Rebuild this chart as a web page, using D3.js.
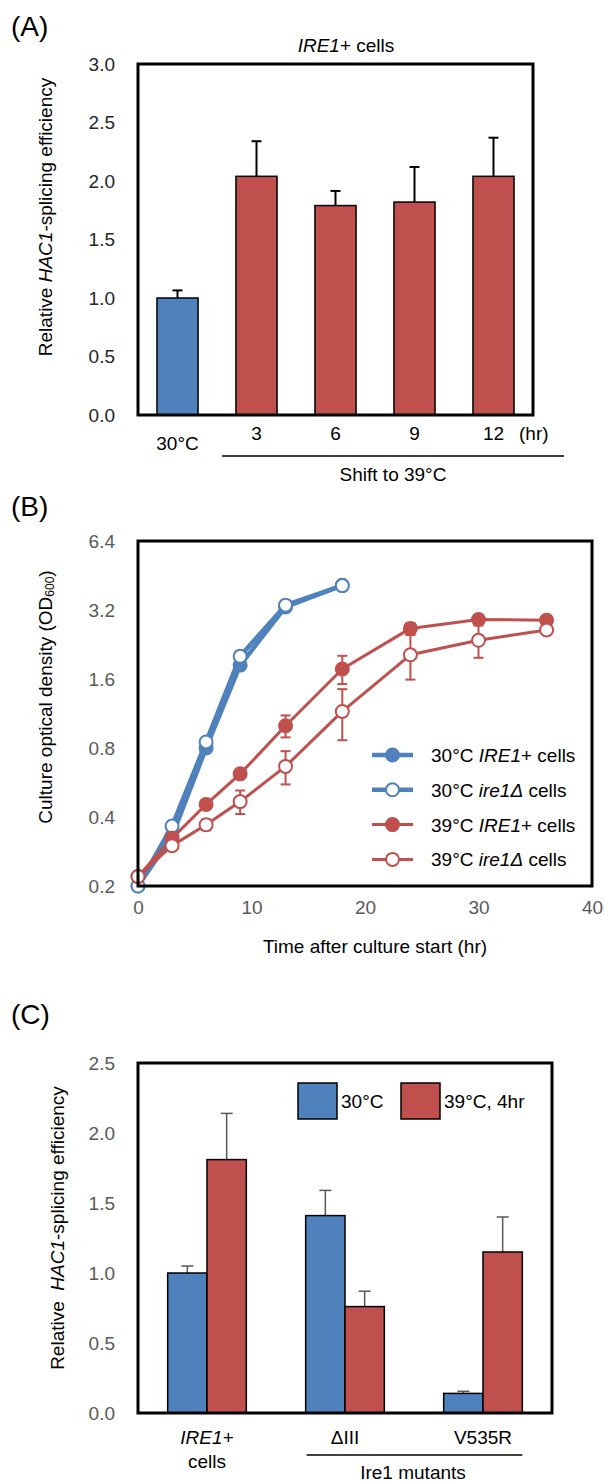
<!DOCTYPE html>
<html>
<head>
<meta charset="utf-8">
<script src="https://cdn.jsdelivr.net/npm/d3@7"></script>
<style>
  body { margin: 0; background: #fff; }
  text { font-family: "Liberation Sans", Arial, sans-serif; }
</style>
</head>
<body>
<div id="chart"></div>
<script>
// ---- data ----
// (A) IRE1+ cells, splicing efficiency
var catsA = ["30°C", "3", "6", "9", "12"];
var valsA = [1.0, 2.04, 1.79, 1.82, 2.04];
var errA = [0.065, 0.30, 0.125, 0.30, 0.33];

// (B) growth curves, OD600
var timeB = [0, 3, 6, 9, 13, 18, 24, 30, 36];
var od30Ire1 = [0.20, 0.33, 0.80, 1.84, 3.30, 4.10];
var sd30Ire1 = [0, 0.01, 0.02, 0.04, 0.05, 0.05];
var od30Del = [0.20, 0.365, 0.85, 2.01, 3.36, 4.09];
var sd30Del = [0, 0.01, 0.03, 0.10, 0.06, 0.06];
var od39Ire1 = [0.22, 0.323, 0.454, 0.617, 1.0, 1.77, 2.66, 2.91, 2.89];
var sd39Ire1 = [0, 0.01, 0.01, 0.02, 0.11, 0.25, 0.15, 0.05, 0.04];
var od39Del = [0.22, 0.30, 0.37, 0.467, 0.665, 1.155, 2.04, 2.36, 2.62];
var sd39Del = [0, 0.01, 0.02, 0.055, 0.11, 0.29, 0.45, 0.38, 0.04];
var ticksB = [0.2, 0.4, 0.8, 1.6, 3.2, 6.4];

// (C) mutants
var groupsC = ["IRE1+", "ΔIII", "V535R"];
var val30C = [1.0, 1.41, 0.14];
var err30C = [0.05, 0.18, 0.015];
var val39C = [1.81, 0.76, 1.15];
var err39C = [0.33, 0.11, 0.25];

var blue = "#4F81BD", red = "#C0504D", gray = "#595959";
var fs = 19;

var svg = d3.select("#chart").append("svg")
  .attr("width", 604).attr("height", 1481);

function panelLabel(t, x, y) {
  svg.append("text").attr("x", x).attr("y", y).attr("font-size", 28)
    .attr("dominant-baseline", "central").text(t);
}
function frame(x0, y0, x1, y1) {
  svg.append("rect").attr("x", x0).attr("y", y0)
    .attr("width", x1 - x0).attr("height", y1 - y0)
    .attr("fill", "none").attr("stroke", "#000").attr("stroke-width", 3);
}
function yAxis(scale, x, vals, fmt, color) {
  var g = svg.append("g").attr("transform", "translate(" + x + ",0)")
    .call(d3.axisLeft(scale).tickValues(vals).tickFormat(fmt).tickSize(0).tickPadding(23));
  g.select(".domain").remove();
  g.selectAll("text").attr("font-size", fs).attr("fill", color)
    .style("font-family", "'Liberation Sans', Arial, sans-serif");
}
function errorBar(g, x, yTop, yBot, half, color, w) {
  g.append("line").attr("x1", x).attr("x2", x).attr("y1", yTop).attr("y2", yBot)
    .attr("stroke", color).attr("stroke-width", w);
  g.append("line").attr("x1", x - half).attr("x2", x + half).attr("y1", yTop).attr("y2", yTop)
    .attr("stroke", color).attr("stroke-width", w);
}

// ================= (A) =================
panelLabel("(A)", 11, 26);
var xA = d3.scaleBand().domain(catsA).range([138, 533]).paddingInner(0.48).paddingOuter(0.24);
var yA = d3.scaleLinear().domain([0, 3]).range([415, 64]);

var title = svg.append("text").attr("x", 346).attr("y", 45).attr("text-anchor", "middle")
  .attr("dominant-baseline", "central").attr("font-size", fs);
title.append("tspan").attr("font-style", "italic").text("IRE1");
title.append("tspan").text("+ cells");

yAxis(yA, 138, [0, 0.5, 1, 1.5, 2, 2.5, 3], d3.format(".1f"), "#262626");

var gA = svg.append("g");
catsA.forEach(function (c, i) {
  var cx = xA(c) + xA.bandwidth() / 2;
  errorBar(gA, cx, yA(valsA[i] + errA[i]), yA(valsA[i]), 5, "#000", 2);
});
gA.selectAll("rect").data(valsA).enter().append("rect")
  .attr("x", function (d, i) { return xA(catsA[i]); })
  .attr("y", function (d) { return yA(d); })
  .attr("width", xA.bandwidth())
  .attr("height", function (d) { return yA(0) - yA(d); })
  .attr("fill", function (d, i) { return i === 0 ? blue : red; })
  .attr("stroke", "#000").attr("stroke-width", 1.5);

frame(138, 64, 533, 415);

catsA.forEach(function (c, i) {
  svg.append("text").attr("x", xA(c) + xA.bandwidth() / 2).attr("y", i === 0 ? 443 : 433)
    .attr("text-anchor", "middle").attr("dominant-baseline", "central")
    .attr("font-size", fs).text(c);
});
svg.append("text").attr("x", 519).attr("y", 433).attr("dominant-baseline", "central")
  .attr("font-size", fs).text("(hr)");
svg.append("line").attr("x1", 222).attr("x2", 564).attr("y1", 456).attr("y2", 456)
  .attr("stroke", "#000").attr("stroke-width", 1.5);
svg.append("text").attr("x", 393).attr("y", 474).attr("text-anchor", "middle")
  .attr("dominant-baseline", "central").attr("font-size", fs).text("Shift to 39°C");

var ytA = svg.append("text").attr("transform", "translate(45,217) rotate(-90)")
  .attr("text-anchor", "middle").attr("dominant-baseline", "central").attr("font-size", fs);
ytA.append("tspan").text("Relative ");
ytA.append("tspan").attr("font-style", "italic").text("HAC1");
ytA.append("tspan").text("-splicing efficiency");

// ================= (B) =================
panelLabel("(B)", 11, 506);
var xB = d3.scaleLinear().domain([0, 40]).range([138, 592]);
var yB = d3.scaleLog().base(2).domain([0.2, 6.4]).range([886, 541]);

yAxis(yB, 138, ticksB, d3.format(".1f"), gray);
var gxB = svg.append("g").attr("transform", "translate(0,886)")
  .call(d3.axisBottom(xB).tickValues([0, 10, 20, 30, 40]).tickSize(0).tickPadding(15));
gxB.select(".domain").remove();
gxB.selectAll("text").attr("font-size", fs).attr("fill", gray)
  .style("font-family", "'Liberation Sans', Arial, sans-serif");

var seriesB = [
  { vals: od30Ire1, sd: sd30Ire1, color: blue, open: false, lw: 4.5 },
  { vals: od30Del, sd: sd30Del, color: blue, open: true, lw: 4.5 },
  { vals: od39Ire1, sd: sd39Ire1, color: red, open: false, lw: 3 },
  { vals: od39Del, sd: sd39Del, color: red, open: true, lw: 3 }
];
var lineB = d3.line()
  .x(function (d) { return xB(d.t); })
  .y(function (d) { return yB(d.v); });

var gB = svg.append("g");
seriesB.forEach(function (s) {
  var pts = s.vals.map(function (v, i) { return { t: timeB[i], v: v, sd: s.sd[i] }; });
  s.pts = pts;
  pts.forEach(function (p) {
    if (p.sd > 0) {
      var x = xB(p.t);
      gB.append("line").attr("x1", x).attr("x2", x)
        .attr("y1", yB(p.v + p.sd)).attr("y2", yB(Math.max(p.v - p.sd, 0.2)))
        .attr("stroke", s.color).attr("stroke-width", 2);
      [p.v + p.sd, p.v - p.sd].forEach(function (e) {
        gB.append("line").attr("x1", x - 5).attr("x2", x + 5)
          .attr("y1", yB(e)).attr("y2", yB(e))
          .attr("stroke", s.color).attr("stroke-width", 2);
      });
    }
  });
});
seriesB.forEach(function (s) {
  gB.append("path").datum(s.pts).attr("d", lineB)
    .attr("fill", "none").attr("stroke", s.color).attr("stroke-width", s.lw)
    .attr("stroke-linejoin", "round");
  gB.selectAll(null).data(s.pts).enter().append("circle")
    .attr("cx", function (d) { return xB(d.t); })
    .attr("cy", function (d) { return yB(d.v); })
    .attr("r", 6.5)
    .attr("fill", s.open ? "#fff" : s.color)
    .attr("stroke", s.color).attr("stroke-width", 2);
});

frame(138, 541, 592, 886);

// legend B
var legB = [
  { pre: "30°C ", it: "IRE1", post: "+ cells", color: blue, open: false, lw: 4.5 },
  { pre: "30°C ", it: "ire1Δ", post: " cells", color: blue, open: true, lw: 4.5 },
  { pre: "39°C ", it: "IRE1", post: "+ cells", color: red, open: false, lw: 3 },
  { pre: "39°C ", it: "ire1Δ", post: " cells", color: red, open: true, lw: 3 }
];
legB.forEach(function (l, i) {
  var y = 755 + i * 34.8;
  svg.append("line").attr("x1", 372).attr("x2", 413).attr("y1", y).attr("y2", y)
    .attr("stroke", l.color).attr("stroke-width", l.lw);
  svg.append("circle").attr("cx", 392.5).attr("cy", y).attr("r", 6.5)
    .attr("fill", l.open ? "#fff" : l.color).attr("stroke", l.color).attr("stroke-width", 2);
  var t = svg.append("text").attr("x", 431).attr("y", y).attr("dominant-baseline", "central")
    .attr("font-size", 19);
  t.append("tspan").text(l.pre);
  t.append("tspan").attr("font-style", "italic").text(l.it);
  t.append("tspan").text(l.post);
});

var ytB = svg.append("text").attr("transform", "translate(45,697) rotate(-90)")
  .attr("text-anchor", "middle").attr("dominant-baseline", "central").attr("font-size", fs);
ytB.append("tspan").text("Culture optical density (OD");
ytB.append("tspan").attr("font-size", 12).attr("dy", 5).text("600");
ytB.append("tspan").attr("dy", -5).text(")");

svg.append("text").attr("x", 375).attr("y", 946).attr("text-anchor", "middle")
  .attr("dominant-baseline", "central").attr("font-size", fs).text("Time after culture start (hr)");

// ================= (C) =================
panelLabel("(C)", 11, 1014);
var xC = d3.scaleBand().domain(groupsC).range([138, 552]).paddingInner(0.43).paddingOuter(0.215);
var xC1 = d3.scaleBand().domain(["30", "39"]).range([0, xC.bandwidth()]);
var yC = d3.scaleLinear().domain([0, 2.5]).range([1413, 1063]);

yAxis(yC, 138, [0, 0.5, 1, 1.5, 2, 2.5], d3.format(".1f"), gray);

var gC = svg.append("g");
groupsC.forEach(function (g, i) {
  var x30 = xC(g) + xC1("30"), x39 = xC(g) + xC1("39"), w = xC1.bandwidth();
  errorBar(gC, x30 + w / 2, yC(val30C[i] + err30C[i]), yC(val30C[i]), 6, gray, 1.5);
  errorBar(gC, x39 + w / 2, yC(val39C[i] + err39C[i]), yC(val39C[i]), 6, gray, 1.5);
  gC.append("rect").attr("x", x30).attr("y", yC(val30C[i])).attr("width", w)
    .attr("height", yC(0) - yC(val30C[i])).attr("fill", blue)
    .attr("stroke", "#000").attr("stroke-width", 1.5);
  gC.append("rect").attr("x", x39).attr("y", yC(val39C[i])).attr("width", w)
    .attr("height", yC(0) - yC(val39C[i])).attr("fill", red)
    .attr("stroke", "#000").attr("stroke-width", 1.5);
});

frame(138, 1063, 552, 1413);

// legend C
svg.append("rect").attr("x", 298).attr("y", 1083).attr("width", 39).attr("height", 36)
  .attr("fill", blue).attr("stroke", "#000").attr("stroke-width", 1.5);
svg.append("text").attr("x", 341).attr("y", 1101).attr("dominant-baseline", "central")
  .attr("font-size", fs).text("30°C");
svg.append("rect").attr("x", 401).attr("y", 1083).attr("width", 39).attr("height", 36)
  .attr("fill", red).attr("stroke", "#000").attr("stroke-width", 1.5);
svg.append("text").attr("x", 444).attr("y", 1101).attr("dominant-baseline", "central")
  .attr("font-size", fs).text("39°C, 4hr");

// x labels C
groupsC.forEach(function (g, i) {
  var cx = xC(g) + xC.bandwidth() / 2;
  var t = svg.append("text").attr("x", cx).attr("y", 1437).attr("text-anchor", "middle")
    .attr("dominant-baseline", "central").attr("font-size", fs).text(g);
  if (i === 0) {
    t.attr("font-style", "italic");
    svg.append("text").attr("x", cx).attr("y", 1461).attr("text-anchor", "middle")
      .attr("dominant-baseline", "central").attr("font-size", fs).text("cells");
  }
});
svg.append("line").attr("x1", xC(groupsC[1]) + 1).attr("x2", xC(groupsC[2]) + xC.bandwidth())
  .attr("y1", 1455).attr("y2", 1455).attr("stroke", "#000").attr("stroke-width", 1.5);
svg.append("text").attr("x", 413).attr("y", 1472).attr("text-anchor", "middle")
  .attr("dominant-baseline", "central").attr("font-size", fs).text("Ire1 mutants");

var ytC = svg.append("text").attr("transform", "translate(57,1228) rotate(-90)")
  .attr("text-anchor", "middle").attr("dominant-baseline", "central").attr("font-size", fs)
  .attr("xml:space", "preserve");
ytC.append("tspan").text("Relative  ");
ytC.append("tspan").attr("font-style", "italic").text("HAC1");
ytC.append("tspan").text("-splicing efficiency");
</script>
</body>
</html>
